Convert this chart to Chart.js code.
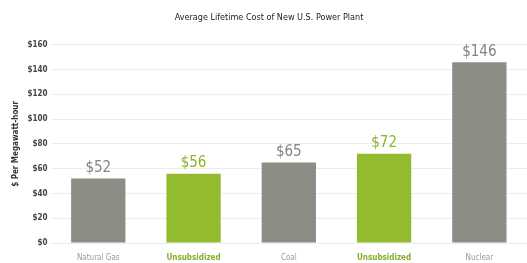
<!DOCTYPE html>
<html>
<head>
<meta charset="utf-8">
<script src="https://cdn.jsdelivr.net/npm/chart.js@4/dist/chart.umd.min.js"></script>
<style>
  html, body { margin: 0; padding: 0; background: #fff; }
  #wrap { width: 527px; height: 263px; }
</style>
</head>
<body>
<div id="wrap"><canvas id="chart" width="527" height="263"></canvas></div>
<script>
const categories = ['Natural Gas', 'Unsubsidized', 'Coal', 'Unsubsidized', 'Nuclear'];
const costs = [52, 56, 65, 72, 146];
const valueLabels = ['$52', '$56', '$65', '$72', '$146'];
const isGreen = [false, true, false, true, false];

const GRAY = '#8d8d86';
const GREEN = '#93bb2f';
const FONT = '"DejaVu Sans Condensed", "Liberation Sans Narrow", sans-serif';

// value labels above bars
const barLabels = {
    id: 'barLabels',
    afterDatasetsDraw(chart) {
        const ctx = chart.ctx;
        const meta = chart.getDatasetMeta(0);
        ctx.save();
        ctx.font = '15px ' + FONT;
        ctx.textAlign = 'center';
        ctx.textBaseline = 'bottom';
        meta.data.forEach((bar, i) => {
            ctx.fillStyle = isGreen[i] ? '#8bb52a' : '#85857f';
            ctx.fillText(valueLabels[i], bar.x, bar.y - 3);
        });
        ctx.restore();
    }
};

new Chart(document.getElementById('chart').getContext('2d'), {
    type: 'bar',
    data: {
        labels: categories,
        datasets: [{
            data: costs,
            backgroundColor: isGreen.map(g => g ? GREEN : GRAY),
            barPercentage: 0.57,
            categoryPercentage: 1.0
        }]
    },
    options: {
        responsive: false,
        animation: false,
        layout: { padding: { left: 11, right: 0, top: 0, bottom: 0 } },
        plugins: {
            legend: { display: false },
            tooltip: { enabled: false },
            title: {
                display: true,
                text: 'Average Lifetime Cost of New U.S. Power Plant',
                color: '#222',
                font: { family: FONT, size: 9, weight: 'normal' },
                padding: { top: 12, bottom: 22 }
            }
        },
        scales: {
            x: {
                grid: { display: false, drawTicks: false },
                border: { display: false },
                ticks: {
                    color: (c) => isGreen[c.index] ? '#86ad2a' : '#999',
                    font: (c) => ({ family: FONT, size: 8, weight: isGreen[c.index] ? 'bold' : 'normal' }),
                    padding: 10,
                    maxRotation: 0
                },
                afterFit: (scale) => { scale.height = 20; }
            },
            y: {
                min: 0,
                max: 160,
                ticks: {
                    stepSize: 20,
                    callback: v => '$' + v,
                    color: '#444',
                    font: { family: FONT, size: 8, weight: 'bold' },
                    padding: 3
                },
                grid: { color: '#ececec', drawTicks: false },
                border: { display: false },
                title: {
                    display: true,
                    text: '$ Per Megawatt-hour',
                    color: '#333',
                    font: { family: FONT, size: 8, weight: 'bold' },
                    padding: { top: 0, bottom: 4 }
                }
            }
        }
    },
    plugins: [barLabels]
});
</script>
</body>
</html>
